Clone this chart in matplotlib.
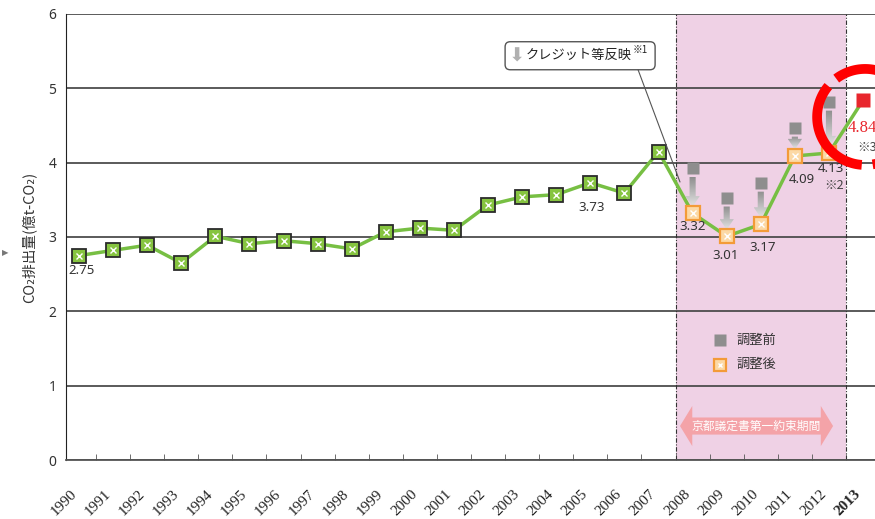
import numpy as np
import matplotlib.pyplot as plt
from matplotlib.patches import Polygon, FancyBboxPatch
from matplotlib.colors import LinearSegmentedColormap

plt.rcParams['font.family'] = ['Noto Sans CJK JP', 'DejaVu Sans']

# data
base_years = list(range(1990, 2008))
base_vals = [2.75, 2.82, 2.89, 2.65, 3.01, 2.91, 2.95, 2.91, 2.84, 3.07,
             3.12, 3.09, 3.43, 3.54, 3.57, 3.73, 3.59, 4.15]
adj_years = list(range(2008, 2013))
before_vals = [3.93, 3.53, 3.73, 4.47, 4.82]   # 調整前
after_vals = [3.32, 3.01, 3.17, 4.09, 4.13]    # 調整後
last_year = 2013
last_val = 4.84
tick_years = list(range(1990, 2014))

line_x = base_years + adj_years + [last_year]
line_y = base_vals + after_vals + [last_val]

green = '#77bf43'
orange = '#f39b38'
grey = '#8e8e8e'
red = '#e8262d'

fig = plt.figure(figsize=(8.75, 5.19), dpi=100)
ax = fig.add_axes([66/875, 1-460/519, 1-66/875, 446/519])
xlim = (1989.62, 2013.35)
ylim = (0, 6)

# first commitment period
ax.axvspan(2007.5, 2012.5, color='#efd1e5', zorder=0, lw=0)
for xv in (2007.5, 2012.5):
    ax.axvline(xv, color='#333333', lw=0.8, ls=(0, (4, 1.5, 1, 1.5)), zorder=1)

ax.set_yticks(range(7))
ax.grid(axis='y', color='#4d4d4d', lw=1.3, zorder=1)
ax.set_axisbelow(True)

# gray arrows: before -> after
cmap = LinearSegmentedColormap.from_list('ar', ['#e4e4e4', '#8f8f8f'])
grad = np.linspace(0, 1, 64).reshape(-1, 1)
for yr, b, a in zip(adj_years, before_vals, after_vals):
    top, bot = b - 0.12, a + 0.09
    sw, hw, hl = 0.09, 0.21, 0.14
    pts = [(yr-sw, top), (yr+sw, top), (yr+sw, bot+hl), (yr+hw, bot+hl),
           (yr, bot), (yr-hw, bot+hl), (yr-sw, bot+hl)]
    poly = Polygon(pts, closed=True, fc='none', ec='none')
    ax.add_patch(poly)
    im = ax.imshow(grad, cmap=cmap, origin='lower', aspect='auto',
                   extent=[yr-hw, yr+hw, bot, top], zorder=3)
    im.set_clip_path(poly)

ax.plot(line_x, line_y, color=green, lw=2.5, zorder=4)
ax.plot(base_years, base_vals, ls='none', marker='s', ms=9.5, mfc='#86c440',
        mec='#2b2b2b', mew=1.3, zorder=5)
ax.plot(base_years, base_vals, ls='none', marker='x', ms=4, mec='white', mew=1, zorder=6)
ax.plot(adj_years, after_vals, ls='none', marker='s', ms=9.5, mfc='#fcd9a6',
        mec=orange, mew=1.6, zorder=5)
ax.plot(adj_years, after_vals, ls='none', marker='x', ms=4, mec='white', mew=1, zorder=6)
ax.plot(adj_years, before_vals, ls='none', marker='s', ms=9, mfc=grey, mec='none', zorder=5)
ax.plot([last_year], [last_val], ls='none', marker='s', ms=10, mfc=red, mec='none', zorder=5)

# value labels
lab_kw = dict(textcoords='offset pixels', ha='center', va='center', fontsize=9.5,
              color='#333333', family=['Noto Sans', 'DejaVu Sans'], zorder=7)
labels = [(1990, 2.75, '2.75', 3, -15), (2005, 3.73, '3.73', 1, -25),
          (2008, after_vals[0], '3.32', 0, -13), (2009, after_vals[1], '3.01', -1, -19),
          (2010, after_vals[2], '3.17', 2, -23), (2011, after_vals[3], '4.09', 7, -24),
          (2012, after_vals[4], '4.13', 2, -15)]
for x, y, t, dx, dy in labels:
    ax.annotate(t, (x, y), xytext=(dx, dy), **lab_kw)
ax.annotate('※2', (2012, after_vals[4]), xytext=(5, -32), textcoords='offset pixels',
            ha='center', va='center', fontsize=9, color='#444444', zorder=7)
ax.annotate('4.84', (last_year, last_val), xytext=(-15, -28), textcoords='offset pixels',
            ha='left', va='center', fontsize=12, color=red, family='Liberation Serif',
            zorder=7)
ax.annotate('※3', (last_year, last_val), xytext=(-6, -47), textcoords='offset pixels',
            ha='left', va='center', fontsize=9, color='#444444', zorder=7)

# red dashed circle around 2012-2013
cx, cy, ra, rb = 2013.06, 4.615, 1.408, 0.646
for p0, p1 in [(55, 127), (140, 266), (279, 335)]:
    ph = np.radians(np.linspace(p0, p1, 80))
    ax.plot(cx + ra*np.cos(ph), cy + rb*np.sin(ph), color='#ff0000', lw=7,
            solid_capstyle='butt', zorder=8, clip_on=False)

# legend
ax.plot([2008.8], [1.615], ls='none', marker='s', ms=9, mfc=grey, mec='none', zorder=5)
ax.plot([2008.8], [1.28], ls='none', marker='s', ms=9, mfc='#fcd9a6', mec=orange,
        mew=1.6, zorder=5)
ax.plot([2008.8], [1.28], ls='none', marker='x', ms=3.5, mec='white', mew=1, zorder=6)
ax.text(2009.3, 1.615, '調整前', fontsize=9.5, va='center', color='#333333')
ax.text(2009.3, 1.28, '調整後', fontsize=9.5, va='center', color='#333333')

# period banner
bx0, bx1, bcy, bh, hh, hlen = 2007.63, 2012.12, 0.457, 0.115, 0.27, 0.36
ax.add_patch(Polygon([(bx0, bcy), (bx0+hlen, bcy+hh), (bx0+hlen, bcy+bh),
                      (bx1-hlen, bcy+bh), (bx1-hlen, bcy+hh), (bx1, bcy),
                      (bx1-hlen, bcy-hh), (bx1-hlen, bcy-bh), (bx0+hlen, bcy-bh),
                      (bx0+hlen, bcy-hh)], closed=True, fc='#f4a3a8', ec='none', zorder=3))
ax.text((bx0+bx1)/2, bcy, '京都議定書第一約束期間', fontsize=8.5, color='white',
        ha='center', va='center', zorder=4)

# callout box
ax.add_patch(FancyBboxPatch((2002.5, 5.25), 4.4, 0.377,
                            boxstyle='round,pad=0,rounding_size=0.15',
                            mutation_aspect=0.46, fc='white', ec='#555555',
                            lw=1, zorder=6))
ax.text(2004.65, 5.44, 'クレジット等反映', fontsize=9.5, ha='center', va='center',
        color='#222222', zorder=7)
ax.text(2006.45, 5.52, '※1', fontsize=7, ha='center', va='center',
        color='#222222', zorder=7)
ax.text(2002.85, 5.43, '⬇', fontsize=14, ha='center', va='center',
        color='#b0b0b0', family='DejaVu Sans', zorder=7)
ax.annotate('', xy=(2007.63, 3.74), xytext=(2006.4, 5.25),
            arrowprops=dict(arrowstyle='-', color='#555555', lw=0.8,
                            shrinkA=0, shrinkB=0), zorder=6)

# axes styling
ax.set_xlim(*xlim)
ax.set_ylim(*ylim)
ax.set_xticks(tick_years)
ax.set_xticks(np.arange(1990.5, 2013, 1), minor=True)
ax.tick_params(axis='x', which='major', length=0, pad=20)
ax.tick_params(axis='x', which='minor', direction='in', length=4, color='#555555')
ax.set_xticklabels([str(y) for y in tick_years], rotation=45, ha='right', va='top',
                   family='Liberation Serif', fontsize=11, color='#222222')
ax.get_xticklabels()[-1].set_fontweight('bold')
ax.tick_params(axis='y', length=0, pad=7, labelsize=10, labelcolor='#333333')
for lab in ax.get_yticklabels():
    lab.set_family(['Noto Sans', 'DejaVu Sans'])
for s in ('top', 'right'):
    ax.spines[s].set_visible(False)
ax.spines['left'].set_color('#222222')
ax.spines['bottom'].set_color('#555555')
ax.spines['bottom'].set_linewidth(1.3)

ax.set_ylabel('CO₂排出量(億t-CO₂)', fontsize=10.5, color='#333333')
ax.yaxis.set_label_coords(-30/809, 0.5)
fig.text(0.002, 1-253/519, '▶', fontsize=6, color='#777777', va='center',
         family='DejaVu Sans')

fig.savefig('out.png', dpi=100)
